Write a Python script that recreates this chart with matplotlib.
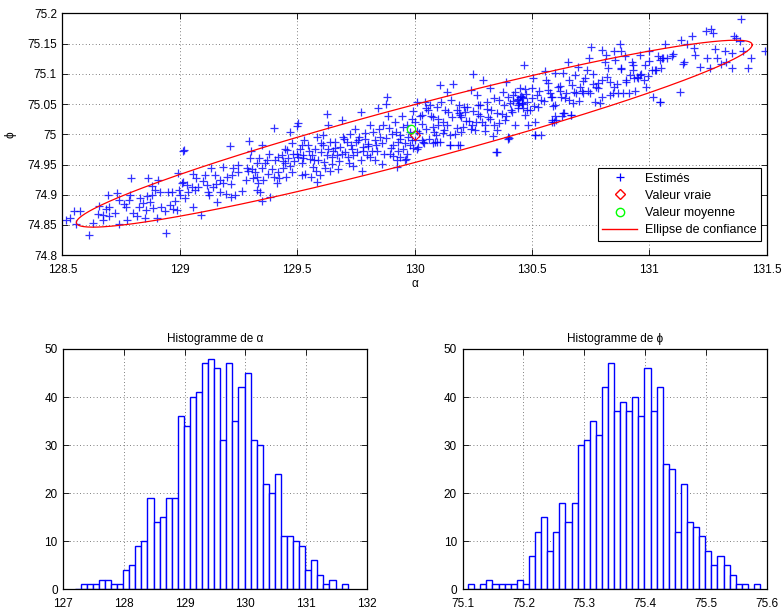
import numpy as np
import matplotlib as mpl
mpl.use('Agg')
import matplotlib.pyplot as plt
from matplotlib.lines import Line2D

plt.rcParams['font.family'] = ['Liberation Sans', 'DejaVu Sans']
plt.rcParams['font.size'] = 8.5

# ── estimated (alpha, phi) pairs ───────────────────────────────────────────
alpha_est = [
    128.517, 128.532, 128.549, 128.574, 128.557, 128.614, 128.631, 128.657, 128.671, 128.671,
    128.685, 128.692, 128.699, 128.723, 128.733, 128.742, 128.742, 128.770, 128.773, 128.784,
    128.787, 128.790, 128.816, 128.827, 128.841, 128.851, 128.858, 128.861, 128.865, 128.872,
    128.880, 128.887, 128.894, 128.901, 128.909, 128.915, 128.936, 128.943, 128.958, 128.966,
    128.972, 128.986, 128.993, 128.997, 129.000, 129.012, 129.012,
    129.008, 129.018, 129.030, 129.036, 129.065, 129.079,
    129.058, 129.055, 129.089, 129.108, 129.115, 129.126, 129.132, 129.143, 129.154, 129.160,
    129.171, 129.183, 129.186, 129.197, 129.214, 129.221, 129.217, 129.228, 129.235, 129.250,
    129.264, 129.285, 129.292, 129.296, 129.302, 129.306, 129.313, 129.320, 129.328, 129.328,
    129.335, 129.339, 129.342, 129.349, 129.349, 129.356, 129.363, 129.373, 129.377, 129.384,
    129.392, 129.401, 129.406, 129.413, 129.420, 129.424, 129.434, 129.441, 129.448, 129.453,
    129.455, 129.463, 129.470, 129.477, 129.481, 129.487, 129.498, 129.505, 129.505, 129.512,
    129.519, 129.524,
    129.519, 129.526, 129.533, 129.548, 129.555, 129.562, 129.569, 129.576, 129.583, 129.586,
    129.590, 129.597, 129.600, 129.611, 129.614, 129.626, 129.628, 129.633, 129.640, 129.647,
    129.654, 129.661, 129.668, 129.675, 129.682, 129.690, 129.694, 129.704, 129.711, 129.718,
    129.725, 129.732, 129.739, 129.746, 129.751, 129.756, 129.765, 129.772, 129.775, 129.782,
    129.789, 129.796, 129.803, 129.810, 129.817, 129.824, 129.832, 129.836, 129.846, 129.853,
    129.860, 129.867, 129.878, 129.884, 129.888, 129.895, 129.903, 129.910, 129.917, 129.924,
    129.924, 129.931, 129.938, 129.945, 129.952, 129.964, 129.966, 129.973, 129.980, 129.988,
    129.995, 130.002, 130.009, 130.012, 130.016, 130.023, 130.030,
    129.938, 129.960, 129.995, 130.030, 130.094, 130.151, 130.193, 130.350, 130.400, 130.513,
    130.584, 130.600, 130.630,
    130.034, 130.044, 130.051, 130.059, 130.066, 130.077, 130.083, 130.087, 130.094, 130.101,
    130.108, 130.111, 130.120, 130.125, 130.137, 130.144, 130.151, 130.154, 130.165, 130.172,
    130.179, 130.186, 130.191, 130.193, 130.200, 130.208, 130.215, 130.222, 130.233, 130.239,
    130.243, 130.250, 130.257, 130.267, 130.271, 130.279, 130.286, 130.293, 130.300, 130.307,
    130.314, 130.321, 130.328, 130.333, 130.338, 130.347, 130.352, 130.361, 130.371, 130.378,
    130.385, 130.392, 130.399, 130.406, 130.414, 130.421, 130.428, 130.435, 130.442, 130.449,
    130.456, 130.463, 130.466, 130.470, 130.475, 130.480, 130.485, 130.492, 130.499, 130.506,
    130.513, 130.520, 130.527, 130.537, 130.541, 130.404, 130.513, 130.037, 130.080, 130.108,
    130.440, 130.452, 130.447, 130.458, 130.462,
    130.555, 130.562, 130.569, 130.577, 130.584, 130.591, 130.594, 130.598, 130.612, 130.619,
    130.626, 130.633, 130.636, 130.645, 130.655, 130.659, 130.669, 130.673, 130.676, 130.683,
    130.690, 130.697, 130.704, 130.712, 130.719, 130.726, 130.733, 130.744, 130.747, 130.754,
    130.761, 130.768, 130.773, 130.783, 130.790, 130.797, 130.801, 130.811, 130.818, 130.825,
    130.832, 130.835, 130.844, 130.849, 130.854, 130.861, 130.868, 130.875, 130.878, 130.882,
    130.889, 130.896, 130.903, 130.915, 130.917, 130.925, 130.929, 130.934, 130.939, 130.946,
    130.953, 130.960, 130.967, 130.977, 130.981, 130.988, 130.995, 131.000, 131.010, 131.017,
    131.028, 131.038, 131.045, 131.059, 130.588, 130.605, 130.633, 130.665,
    131.024, 131.045, 131.055, 131.067, 131.074, 131.098, 131.131, 131.135, 131.145, 131.163,
    131.183, 131.192, 131.194, 131.216, 131.244, 131.248, 131.258, 131.263, 131.272, 131.280,
    131.287, 131.308, 131.322, 131.329, 131.351, 131.353, 131.362, 131.372, 131.386, 131.390,
    131.400, 131.422, 131.436, 131.493, 131.045,
    # denser core, estimated
    129.42, 129.45, 129.47, 129.50, 129.52, 129.55, 129.57, 129.58, 129.60, 129.62,
    129.63, 129.65, 129.66, 129.68, 129.69, 129.70, 129.72, 129.73, 129.74, 129.76,
    129.77, 129.78, 129.79, 129.80, 129.81, 129.83, 129.84, 129.85, 129.86, 129.87,
    129.88, 129.89, 129.90, 129.91, 129.92, 129.93, 129.94, 129.95, 129.96, 129.97,
    129.98, 129.99, 130.00, 130.01, 130.02, 130.04, 130.05, 130.06, 130.07, 130.08,
    130.09, 130.10, 130.12, 130.13, 130.14, 130.15, 130.16, 130.18, 130.19, 130.20,
    130.21, 130.22, 130.24, 130.25, 130.26, 130.27, 130.28, 130.30, 130.31, 130.32,
    130.34, 130.35, 130.36, 130.38, 130.39, 130.40, 130.41, 130.42, 130.43, 130.44,
    130.45, 130.46, 130.47, 130.48, 130.50, 130.51, 130.53, 130.55, 130.57, 130.58,
    130.60, 130.62, 130.64, 130.66, 130.68, 130.70, 130.72, 130.74, 130.76, 130.78,
    130.80, 130.82, 130.85, 130.88, 130.90, 130.93, 130.96, 131.00, 131.05, 131.10,
    131.15, 129.30, 129.28, 129.25, 129.22, 129.20, 129.17, 129.15, 129.12, 129.10,
    129.07, 129.05, 129.02, 128.98, 128.95, 128.92, 128.88, 128.83, 128.80, 128.76,
    128.70, 128.65, 129.35, 129.38, 129.40, 129.33, 129.44, 129.48, 129.53, 129.56,
    129.61, 129.64,
]
phi_est = [
    74.858, 74.862, 74.873, 74.873, 74.851, 74.834, 74.854, 74.881, 74.866, 74.859,
    74.876, 74.899, 74.865, 74.870, 74.903, 74.891, 74.851, 74.879, 74.858, 74.891,
    74.899, 74.928, 74.865, 74.880, 74.887, 74.862, 74.875, 74.898, 74.927, 74.888,
    74.914, 74.878, 74.908, 74.862, 74.924, 74.905, 74.873, 74.836, 74.883, 74.905,
    74.877, 74.875, 74.936, 74.908, 74.899, 74.973, 74.921,
    74.920, 74.974, 74.916, 74.905, 74.908, 74.912,
    74.935, 74.880, 74.867, 74.933, 74.916, 74.899, 74.944, 74.913, 74.917, 74.888,
    74.905, 74.920, 74.946, 74.902, 74.981, 74.933, 74.897, 74.944, 74.900, 74.950,
    74.906, 74.944, 74.939, 74.989, 74.972, 74.942, 74.928, 74.937, 74.930, 74.908,
    74.919, 74.960, 74.905, 74.983, 74.889, 74.924, 74.952, 74.957, 74.935, 74.897,
    74.942, 75.011, 74.957, 74.919, 74.938, 74.928, 74.966, 74.944, 74.952, 74.930,
    74.974, 74.960, 75.004, 74.937, 74.967, 74.955, 75.013, 75.018, 74.963, 74.976,
    74.933, 74.960,
    74.982, 74.965, 74.935, 74.982, 74.959, 74.965, 74.946, 74.976, 74.995, 74.921,
    74.957, 74.932, 74.970, 74.982, 74.954, 74.965, 75.034, 75.015, 74.987, 74.951,
    74.973, 74.987, 74.965, 74.943, 74.979, 75.023, 74.995, 74.970, 74.987, 74.962,
    75.001, 74.976, 74.948, 75.009, 74.987, 74.970, 74.995, 75.037, 74.940, 74.979,
    74.993, 74.965, 74.984, 75.015, 74.973, 75.004, 74.957, 74.982, 75.043, 74.995,
    74.951, 75.015, 75.050, 75.062, 75.031, 74.968, 75.001, 74.982, 75.020, 74.957,
    74.946, 74.987, 74.998, 75.031, 74.976, 74.959, 75.015, 74.995, 74.982, 75.026,
    75.039, 74.990, 75.006, 75.053, 74.979, 75.031, 75.017,
    74.963, 74.957, 74.977, 74.990, 74.988, 74.982, 74.982, 74.971, 74.996, 74.999,
    75.023, 75.030, 75.030,
    75.032, 75.054, 75.043, 75.040, 75.048, 75.029, 75.004, 74.987, 75.045, 75.015,
    75.081, 75.054, 75.021, 75.007, 75.070, 75.037, 74.982, 75.056, 75.084, 75.001,
    75.040, 74.982, 75.049, 75.032, 75.029, 75.012, 75.037, 75.045, 75.022, 75.073,
    75.015, 75.099, 75.007, 75.065, 75.034, 75.048, 75.021, 75.090, 75.015, 75.054,
    75.029, 75.077, 75.040, 74.997, 75.015, 74.971, 75.007, 75.056, 75.034, 75.070,
    75.023, 75.087, 74.993, 75.051, 75.037, 75.065, 75.015, 75.056, 75.048, 75.076,
    75.062, 75.043, 75.115, 75.032, 75.067, 75.054, 75.015, 75.040, 75.076, 75.093,
    75.021, 75.065, 75.045, 75.056, 74.998, 74.994, 74.998, 74.987, 74.986, 74.987,
    75.058, 75.063, 75.052, 75.050, 75.060,
    75.104, 75.090, 75.073, 75.068, 75.062, 75.046, 75.021, 75.101, 75.079, 75.071,
    75.062, 75.101, 75.035, 75.068, 75.120, 75.057, 75.032, 75.082, 75.051, 75.098,
    75.068, 75.112, 75.079, 75.071, 75.068, 75.093, 75.106, 75.126, 75.068, 75.145,
    75.084, 75.054, 75.079, 75.076, 75.051, 75.090, 75.140, 75.120, 75.131, 75.109,
    75.065, 75.087, 75.068, 75.137, 75.123, 75.084, 75.068, 75.149, 75.109, 75.137,
    75.068, 75.129, 75.087, 75.068, 75.098, 75.120, 75.106, 75.093, 75.071, 75.095,
    75.093, 75.131, 75.099, 75.090, 75.115, 75.079, 75.097, 75.138, 75.106, 75.062,
    75.106, 75.130, 75.054, 75.126, 75.021, 75.024, 75.035, 75.032,
    75.106, 75.123, 75.127, 75.149, 75.126, 75.130, 75.070, 75.156, 75.116, 75.149,
    75.163, 75.143, 75.131, 75.112, 75.171, 75.127, 75.110, 75.174, 75.167, 75.141,
    75.126, 75.116, 75.138, 75.119, 75.134, 75.109, 75.163, 75.159, 75.154, 75.191,
    75.137, 75.109, 75.127, 75.138, 75.054,
    # denser core, estimated
    74.962, 74.975, 74.948, 74.968, 74.952, 74.972, 74.958, 74.940, 74.985, 74.944,
    74.975, 74.962, 74.978, 74.955, 74.968, 74.992, 74.952, 74.983, 74.966, 74.990,
    74.958, 74.973, 75.002, 74.980, 74.962, 74.990, 74.972, 75.008, 74.985, 74.968,
    74.994, 75.010, 74.978, 74.964, 75.004, 74.972, 74.992, 75.012, 74.985, 74.968,
    75.003, 74.990, 75.020, 74.975, 75.002, 74.985, 75.008, 74.993, 75.030, 75.012,
    74.998, 75.025, 75.002, 75.040, 75.016, 74.998, 75.028, 75.010, 75.035, 75.004,
    75.045, 75.022, 75.008, 75.038, 75.020, 75.048, 75.030, 75.005, 75.042, 75.025,
    75.060, 75.036, 75.018, 75.048, 75.030, 75.062, 75.040, 75.055, 75.070, 75.044,
    75.062, 75.052, 75.075, 75.040, 75.060, 75.046, 75.072, 75.055, 75.085, 75.062,
    75.048, 75.080, 75.060, 75.090, 75.070, 75.055, 75.088, 75.072, 75.100, 75.085,
    75.062, 75.095, 75.078, 75.108, 75.090, 75.115, 75.098, 75.122, 75.110, 75.132,
    75.120, 74.960, 74.925, 74.938, 74.918, 74.930, 74.925, 74.932, 74.905, 74.922,
    74.928, 74.912, 74.895, 74.890, 74.905, 74.880, 74.900, 74.895, 74.870, 74.885,
    74.880, 74.868, 74.945, 74.968, 74.930, 74.952, 74.955, 74.985, 74.990, 74.930,
    74.998, 74.940,
]

true_value = (130.0, 74.9986)
mean_value = (129.985, 75.008)

# confidence ellipse: centre + (scaled) covariance
ell_center = (129.999, 75.001)
ell_cov = [[2.0736, 0.2117], [0.2117, 0.02391]]

# ── histograms (counts) ────────────────────────────────────────────────────
alpha_bin_start = 127.187
alpha_bin_width = 0.1
alpha_counts = [0, 1, 1, 1, 2, 2, 1, 1, 4, 5, 9, 10, 19, 14, 15, 19, 19, 36, 34, 40, 41, 47,
                48, 46, 31, 47, 35, 42, 45, 31, 30, 22, 20, 24, 11, 11, 10, 9, 4, 6, 3, 1, 2, 0, 1]

phi_bin_start = 75.1092
phi_bin_width = 0.01
phi_counts = [1, 0, 1, 2, 1, 1, 1, 1, 2, 1, 7, 12, 15, 8, 12, 18, 14, 18, 30, 31, 35, 32, 42, 47,
              37, 39, 37, 40, 36, 46, 37, 42, 26, 25, 12, 22, 14, 13, 11, 8, 5, 7, 5, 3, 1, 1, 0, 1]


def matlab_axes(ax):
    ax.tick_params(direction='in', top=True, right=True, length=4, width=0.6)
    ax.tick_params(axis='x', pad=6)
    ax.tick_params(axis='y', pad=4)
    for s in ax.spines.values():
        s.set_linewidth(0.9)
    ax.grid(True, color='#555555', linestyle=(0, (1, 3)), linewidth=0.6)
    ax.set_axisbelow(True)


fig = plt.figure(figsize=(7.84, 6.09), dpi=100)

# ── scatter + ellipse ──────────────────────────────────────────────────────
ax = fig.add_axes([0.0797, 0.581, 0.898, 0.397])
ax.plot(alpha_est, phi_est, '+', color='#0000ff', markersize=6, markeredgewidth=0.9,
        linestyle='none', alpha=0.8)
ax.plot(true_value[0], true_value[1], 'D', markerfacecolor='none', markeredgecolor='red',
        markersize=5, markeredgewidth=0.8)
ax.plot(mean_value[0], mean_value[1], 'o', markerfacecolor='none', markeredgecolor='#00ff00',
        markersize=6, markeredgewidth=0.9)
t = np.linspace(0, 2 * np.pi, 400)
L = np.linalg.cholesky(np.array(ell_cov))
ell = L @ np.vstack([np.cos(t), np.sin(t)])
ax.plot(ell_center[0] + ell[0], ell_center[1] + ell[1], color='red', linewidth=0.9)

ax.set_xlim(128.5, 131.5)
ax.set_ylim(74.8, 75.2)
ax.set_xticks(np.arange(128.5, 131.51, 0.5))
ax.set_yticks(np.arange(74.8, 75.201, 0.05))
ax.xaxis.set_major_formatter(plt.FuncFormatter(lambda v, p: '%g' % round(v, 3)))
ax.yaxis.set_major_formatter(plt.FuncFormatter(lambda v, p: '%g' % round(v, 3)))
ax.set_xlabel('α', labelpad=2)
ax.set_ylabel('ϕ', labelpad=8)
matlab_axes(ax)

handles = [
    Line2D([], [], marker='+', color='#0000ff', linestyle='none', markersize=6, markeredgewidth=0.9),
    Line2D([], [], marker='D', markerfacecolor='none', markeredgecolor='red', linestyle='none', markersize=5),
    Line2D([], [], marker='o', markerfacecolor='none', markeredgecolor='#00ff00', linestyle='none', markersize=6),
    Line2D([], [], color='red', linewidth=1.0),
]
leg = ax.legend(handles, ['Estimés', 'Valeur vraie', 'Valeur moyenne', 'Ellipse de confiance'],
                loc='lower right', bbox_to_anchor=(0.992, 0.06), fancybox=False, framealpha=1,
                edgecolor='black', borderpad=0.35, labelspacing=0.42, handlelength=2.8,
                handletextpad=0.6, borderaxespad=0, fontsize=9)
leg.get_frame().set_linewidth(0.8)

# ── histograms ─────────────────────────────────────────────────────────────
def draw_hist(ax, start, width, counts):
    lefts = start + width * np.arange(len(counts))
    ax.bar(lefts, counts, width=width, align='edge', facecolor='white',
           edgecolor='#0000ff', linewidth=1.0)

ax1 = fig.add_axes([0.0807, 0.0324, 0.387, 0.3946])
draw_hist(ax1, alpha_bin_start, alpha_bin_width, alpha_counts)
ax1.set_xlim(127, 132)
ax1.set_ylim(0, 50)
ax1.set_xticks(range(127, 133))
ax1.set_yticks(range(0, 51, 10))
ax1.set_title('Histogramme de α', fontsize=8.5, pad=5)
matlab_axes(ax1)

ax2 = fig.add_axes([0.590, 0.0324, 0.3878, 0.3946])
draw_hist(ax2, phi_bin_start, phi_bin_width, phi_counts)
ax2.set_xlim(75.1, 75.6)
ax2.set_ylim(0, 50)
ax2.set_xticks(np.arange(75.1, 75.601, 0.1))
ax2.xaxis.set_major_formatter(plt.FuncFormatter(lambda v, p: '%g' % round(v, 3)))
ax2.set_yticks(range(0, 51, 10))
ax2.set_title('Histogramme de ϕ', fontsize=8.5, pad=5)
matlab_axes(ax2)

fig.savefig('out.png', dpi=100)
